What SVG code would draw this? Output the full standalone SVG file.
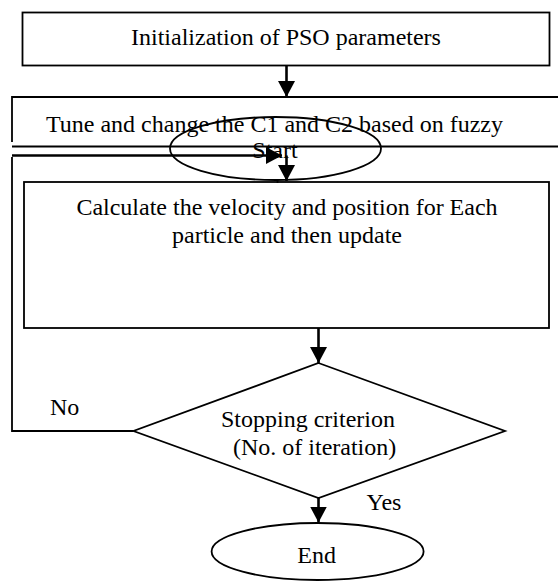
<svg xmlns="http://www.w3.org/2000/svg" width="558" height="581" viewBox="0 0 558 581">
<style>
  .box{fill:none;stroke:#000;stroke-width:1.8}
  .ln{fill:none;stroke:#000;stroke-width:1.8}
  .arr{fill:none;stroke:#000;stroke-width:2.6}
  .t{font-family:'Liberation Serif','Times New Roman','DejaVu Serif',serif;font-size:24px;fill:#000}
</style>
<defs>
  <marker id="ah" markerUnits="userSpaceOnUse" markerWidth="16" markerHeight="17" refX="16" refY="8.5" orient="auto">
    <path d="M0,0 L16,8.5 L0,17 Z" fill="#000"/>
  </marker>
</defs>
<rect width="558" height="581" fill="#fff"/>
<g id="init">
  <rect class="box" x="22.5" y="12.5" width="527" height="53"/>
  <text class="t" font-family="Liberation Serif, serif" x="286" y="45" text-anchor="middle">Initialization of PSO parameters</text>
</g>
<g id="tune">
  <path class="ln" d="M558,97 L12,97 L12,142 M12,146.5 L558,146.5"/>
  <text class="t" font-family="Liberation Serif, serif" x="46" y="132">Tune and change the C1 and C2 based on fuzzy</text>
</g>
<g id="start">
  <ellipse class="box" cx="275.5" cy="148.5" rx="105.5" ry="31.5"/>
  <text class="t" font-family="Liberation Serif, serif" x="275" y="157.5" text-anchor="middle">Start</text>
</g>
<g id="calc">
  <rect class="box" x="24" y="182" width="525" height="146"/>
  <text class="t" font-family="Liberation Serif, serif" x="287" y="215" text-anchor="middle">Calculate the velocity and position for Each</text>
  <text class="t" font-family="Liberation Serif, serif" x="287" y="243" text-anchor="middle">particle and then update</text>
</g>
<g id="decision">
  <polygon class="box" points="318.5,363 505,431 318.5,498 133.5,431"/>
  <text class="t" font-family="Liberation Serif, serif" x="221" y="427">Stopping criterion</text>
  <text class="t" font-family="Liberation Serif, serif" x="233" y="455">(No. of iteration)</text>
</g>
<g id="end">
  <ellipse class="box" cx="317.6" cy="551.5" rx="106" ry="28.5"/>
  <text class="t" font-family="Liberation Serif, serif" x="316.7" y="563" text-anchor="middle">End</text>
</g>
<g id="connectors">
  <line class="arr" x1="286.5" y1="66" x2="286.5" y2="97" marker-end="url(#ah)"/>
  <line class="arr" x1="286.5" y1="155.5" x2="286.5" y2="181" marker-end="url(#ah)"/>
  <path class="ln" d="M133.5,431 L12,431 L12,157"/>
  <line class="arr" x1="12" y1="155.5" x2="282" y2="155.5" stroke-width="3" marker-end="url(#ah)"/>
  <line class="ln" x1="277.5" y1="179.5" x2="277.5" y2="183"/>
  <line class="arr" x1="318.5" y1="328" x2="318.5" y2="363" marker-end="url(#ah)"/>
  <line class="arr" x1="318.5" y1="498" x2="318.5" y2="522.5" marker-end="url(#ah)"/>
  <text class="t" font-family="Liberation Serif, serif" x="50" y="415">No</text>
  <text class="t" font-family="Liberation Serif, serif" x="366.5" y="510">Yes</text>
</g>
</svg>
